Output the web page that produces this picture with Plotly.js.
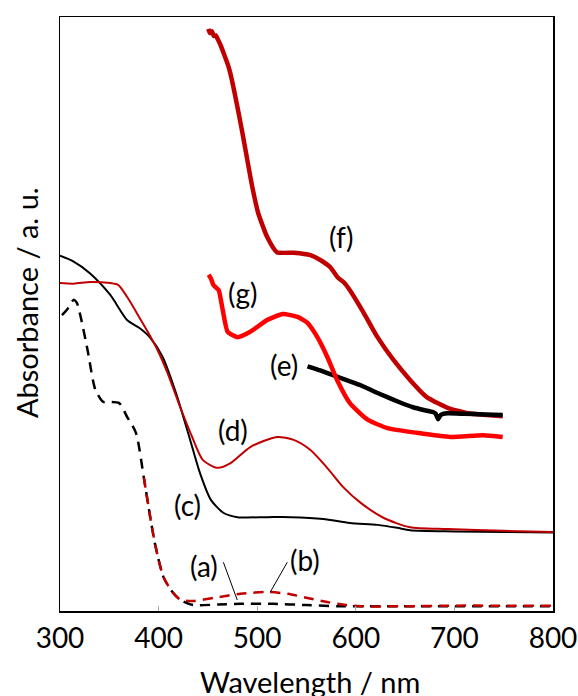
<!DOCTYPE html>
<html>
<head>
<meta charset="utf-8">
<script src="https://cdn.plot.ly/plotly-3.0.1.min.js"></script>
<style>html,body{margin:0;padding:0;background:#fff;}#chart{width:578px;height:696px;}</style>
</head>
<body>
<div id="chart"></div>
<script>
// Wavelength (nm) and absorbance (arbitrary units, 0-100 scale) for each spectrum
var wlA = [302, 307, 314, 317, 321, 328, 336, 344, 349, 360, 368, 377, 385, 392, 397, 405, 414, 422, 435, 460, 483, 516, 550, 584, 650, 720, 800];
var absA = [49.8, 50.7, 52.4, 51.9, 49.5, 43.9, 37.2, 35.2, 35.2, 35.0, 32.7, 30.0, 22.5, 15.3, 10.8, 5.7, 3.2, 1.9, 1.0, 1.1, 1.2, 1.2, 1.0, 0.8, 0.8, 0.8, 0.8];

var wlB = [385, 392, 397, 405, 414, 422, 435, 456, 483, 510, 531, 551, 571, 590, 605, 650, 700, 750, 800];
var absB = [22.5, 15.3, 10.8, 5.7, 3.2, 1.9, 1.7, 2.2, 2.9, 3.2, 2.9, 2.2, 1.5, 1.0, 0.8, 0.8, 0.9, 0.9, 0.9];

var wlC = [300, 313, 330, 351, 368, 381, 391, 404, 418, 432, 442, 453, 466, 480, 510, 534, 567, 594, 622, 642, 655, 700, 750, 800];
var absC = [59.8, 58.9, 56.9, 53.2, 49.0, 47.6, 46.1, 42.8, 36.5, 28.8, 23.2, 18.7, 16.5, 15.8, 15.8, 15.8, 15.5, 14.8, 14.5, 14.0, 13.6, 13.4, 13.3, 13.2];

var wlD = [300, 314, 331, 351, 359, 368, 382, 389, 399, 409, 422, 434, 445, 460, 473, 493, 520, 537, 554, 571, 587, 605, 628, 655, 693, 750, 800];
var absD = [55.2, 55.1, 55.4, 55.2, 54.9, 52.9, 49.0, 47.0, 43.9, 40.1, 34.3, 29.3, 25.4, 24.1, 24.9, 27.6, 29.3, 28.8, 27.1, 24.1, 20.9, 18.2, 15.7, 14.1, 13.8, 13.5, 13.3];

var wlE = [551, 564, 577, 590, 605, 618, 632, 645, 658, 670, 678, 681, 683.5, 686, 693, 710, 730, 749];
var absE = [41.2, 40.5, 39.7, 38.9, 38.0, 37.0, 36.0, 35.1, 34.3, 33.8, 33.5, 33.2, 32.3, 33.0, 33.3, 33.2, 33.1, 33.0];

var wlF = [450.5, 452, 454, 456, 458, 461, 463, 466, 471, 475, 480, 485, 490, 495, 501, 510, 520, 537, 554, 564, 574, 582, 588, 594, 608, 622, 638, 655, 672, 693, 713, 733, 749];
var absF = [98.0, 97.3, 97.6, 96.8, 96.9, 95.9, 95.2, 93.9, 91.6, 88.9, 84.8, 80.5, 75.9, 71.4, 67.0, 63.0, 60.4, 60.3, 59.9, 59.1, 57.9, 56.1, 55.3, 54.0, 50.2, 46.1, 42.3, 38.9, 36.0, 34.2, 33.3, 33.0, 32.8];

var wlG = [450.7, 453, 455.5, 458, 461, 465, 470, 480, 493, 510, 526, 541, 551, 561, 571, 581, 594, 612, 632, 662, 696, 729, 749];
var absG = [56.6, 56.0, 54.9, 54.5, 54.0, 50.7, 47.0, 46.1, 47.0, 49.0, 50.0, 49.5, 48.5, 46.1, 42.8, 38.9, 35.0, 32.2, 30.8, 30.0, 29.3, 29.6, 29.3];

var labels = ['(a)', '(b)', '(c)', '(d)', '(e)', '(f)', '(g)'];
var labelX = [446.4, 548.7, 429.2, 475.8, 527.5, 585.2, 485.9];
var labelY = [7.6, 8.6, 17.8, 30.5, 41.4, 63.0, 53.5];

var xTicks = [300, 400, 500, 600, 700, 800];

var DARKRED = '#C00000';
var FONT = 'Lato, "Open Sans", sans-serif';

function tr(x, y, color, width, dash, smoothing) {
  return {x: x, y: y, type: 'scatter', mode: 'lines',
    line: {color: color, width: width, dash: dash || 'solid', shape: 'spline', smoothing: smoothing || 0.7},
    hoverinfo: 'skip', showlegend: false};
}

var data = [
  tr(wlA, absA, '#000000', 2.5, '10px,7px'),
  tr(wlB, absB, DARKRED, 2.5, '10px,7px'),
  tr(wlC, absC, '#000000', 2),
  tr(wlD, absD, DARKRED, 2),
  tr(wlF, absF, DARKRED, 4.5, 'solid', 0.5),
  tr(wlE, absE, '#000000', 4.5, 'solid', 0.4),
  tr(wlG, absG, '#FF0000', 4.5, 'solid', 0.5)
];

var annotations = labels.map(function (t, i) {
  return {x: labelX[i], y: labelY[i], xref: 'x', yref: 'y', text: t, showarrow: false,
    font: {family: FONT, size: 28, color: '#000'}, xanchor: 'center', yanchor: 'middle'};
});
annotations.push({x: 0.507, y: -0.118, xref: 'paper', yref: 'paper', text: 'Wavelength / nm', showarrow: false,
  font: {family: FONT, size: 29, color: '#000'}, xanchor: 'center', yanchor: 'middle'});
annotations.push({x: -0.069, y: 0.52, xref: 'paper', yref: 'paper', text: 'Absorbance / a. u.', showarrow: false,
  textangle: -90, font: {family: FONT, size: 29, color: '#000'}, xanchor: 'center', yanchor: 'middle'});

var layout = {
  width: 578, height: 696,
  margin: {l: 60, r: 25, t: 17, b: 85},
  paper_bgcolor: '#fff', plot_bgcolor: '#fff',
  font: {family: FONT, size: 28, color: '#000'},
  xaxis: {range: [300, 800], tickvals: xTicks, ticktext: xTicks.map(String), ticks: 'inside', ticklen: 5,
    tickcolor: '#aaaaaa', tickwidth: 1, showgrid: false, zeroline: false, showline: true, linecolor: '#000',
    linewidth: 1.5, mirror: true, ticklabelstandoff: 2, tickfont: {family: FONT, size: 28, color: '#000'}},
  yaxis: {range: [0, 100], showticklabels: false, ticks: '', showgrid: false, zeroline: false, showline: true,
    linecolor: '#000', linewidth: 1.5, mirror: true},
  annotations: annotations,
  shapes: [
    {type: 'line', xref: 'x', yref: 'y', x0: 465.7, y0: 8.2, x1: 479.8, y1: 1.85, line: {color: '#000', width: 1}},
    {type: 'line', xref: 'x', yref: 'y', x0: 530.5, y0: 8.2, x1: 513.3, y1: 3.2, line: {color: '#000', width: 1}}
  ]
};

Plotly.newPlot('chart', data, layout, {displayModeBar: false, staticPlot: true});
</script>
</body>
</html>
